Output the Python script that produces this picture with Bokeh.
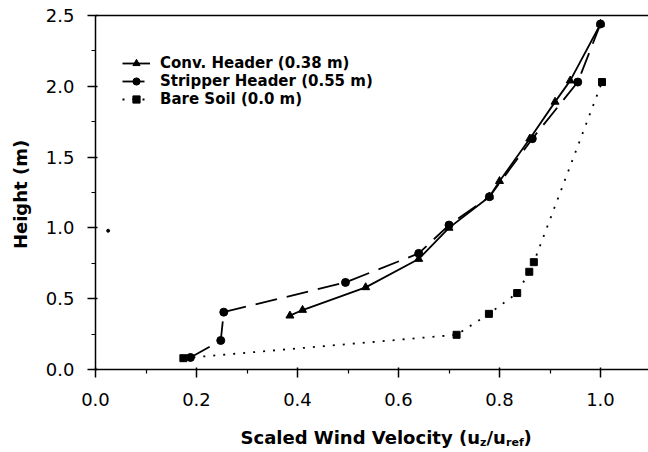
from bokeh.plotting import figure
from bokeh.models import (Range1d, FixedTicker, Label, Legend, LegendItem, LinearAxis)
from bokeh.embed import file_html
from bokeh.resources import INLINE

# ---- data ----
conv_x = [0.385, 0.41, 0.535, 0.64, 0.70, 0.78, 0.80, 0.86, 0.91, 0.94, 1.0]
conv_y = [0.38, 0.42, 0.58, 0.78, 1.00, 1.22, 1.33, 1.63, 1.89, 2.04, 2.44]

strip_x = [0.188, 0.248, 0.254, 0.495, 0.64, 0.70, 0.78, 0.865, 0.955, 1.0]
strip_y = [0.085, 0.205, 0.405, 0.615, 0.82, 1.02, 1.22, 1.63, 2.03, 2.44]

soil_x = [0.174, 0.715, 0.779, 0.835, 0.859, 0.868, 1.003]
soil_y = [0.08, 0.245, 0.393, 0.54, 0.69, 0.758, 2.03]

stray_x = [0.025]
stray_y = [0.98]

x_major = [0.0, 0.2, 0.4, 0.6, 0.8, 1.0]
x_minor = [0.1, 0.3, 0.5, 0.7, 0.9]
y_major = [0.0, 0.5, 1.0, 1.5, 2.0, 2.5]
y_minor = [0.25, 0.75, 1.25, 1.75, 2.25]

labels = ["Conv. Header (0.38 m)", "Stripper Header (0.55 m)", "Bare Soil (0.0 m)"]
x_title = ["Scaled Wind Velocity (u", "z", "/u", "ref", ")"]
y_title = "Height (m)"

FONT = "DejaVu Sans"
W, H = 648, 452
X0PX, XSCALE = 95.0, 505.0      # page px of x=0, px per unit
Y0PX, YSCALE = 369.0, 141.6     # page px of y=0, px per unit


def px2x(px):
    return (px - X0PX) / XSCALE


def py2y(py):
    return (Y0PX - py) / YSCALE


p = figure(width=W, height=H, output_backend="svg", toolbar_location=None,
           x_range=Range1d(px2x(0), px2x(W)), y_range=Range1d(py2y(H), py2y(0)),
           min_border=0, x_axis_location=None, y_axis_location=None)
p.outline_line_color = None
p.grid.visible = False
p.background_fill_color = "white"
p.border_fill_color = "white"

xax = LinearAxis(fixed_location=0, bounds=(0, px2x(W)))
yax = LinearAxis(fixed_location=0, bounds=(0, 2.5))
p.add_layout(xax, "below")
p.add_layout(yax, "left")

for ax, maj, mn in ((xax, x_major, x_minor), (yax, y_major, y_minor)):
    ax.ticker = FixedTicker(ticks=maj, minor_ticks=mn)
    ax.major_label_overrides = {v: f"{v:.1f}" for v in maj}
    ax.major_label_text_font = FONT
    ax.major_label_text_font_size = "18px"
    ax.major_label_text_color = "black"
    ax.axis_line_color = "black"
    ax.axis_line_width = 1.5
    ax.major_tick_line_color = "black"
    ax.minor_tick_line_color = "black"
    ax.major_tick_line_width = 1.5
    ax.minor_tick_line_width = 1.2
    ax.major_tick_in = 2
    ax.major_tick_out = 8
    ax.minor_tick_in = 0
    ax.minor_tick_out = 4
xax.major_label_standoff = 15
yax.major_label_standoff = 13

# top border line of the frame
top = LinearAxis(fixed_location=2.5, bounds=(0, px2x(W)),
                 ticker=FixedTicker(ticks=[]), axis_line_color="black",
                 axis_line_width=1.5, major_tick_line_color=None,
                 minor_tick_line_color=None, major_label_text_font_size="0px")
p.add_layout(top, "above")

# series
r_conv_l = p.line(conv_x, conv_y, line_color="black", line_width=1.8)
r_conv_m = p.scatter(conv_x, conv_y, marker="triangle", size=8, color="black")
r_str_l = p.line(strip_x, strip_y, line_color="black", line_width=1.8, line_dash="22 10")
r_str_m = p.scatter(strip_x, strip_y, marker="circle", size=8, color="black")
r_soil_l = p.line(soil_x, soil_y, line_color="black", line_width=1.8, line_dash="2 8")
r_soil_m = p.scatter(soil_x, soil_y, marker="square", size=7, color="black")
p.scatter(stray_x, stray_y, marker="circle", size=3, color="black")

legend = Legend(items=[LegendItem(label=labels[0], renderers=[r_conv_l, r_conv_m]),
                       LegendItem(label=labels[1], renderers=[r_str_l, r_str_m]),
                       LegendItem(label=labels[2], renderers=[r_soil_l, r_soil_m])],
                location=(122, 344), orientation="vertical",
                border_line_color=None, background_fill_alpha=0,
                label_text_font=FONT, label_text_font_style="bold",
                label_text_color="black",
                label_text_font_size="15px", label_height=18, glyph_height=18,
                glyph_width=28, label_standoff=10, spacing=0, padding=0, margin=0)
p.add_layout(legend)

# x axis title with subscripts
segs = [(x_title[0], 18, 437, 240), (x_title[1], 11, 442, 479.5),
        (x_title[2], 18, 437, 486), (x_title[3], 11, 442, 505.5),
        (x_title[4], 18, 437, 523)]
for txt, fs, py, px in segs:
    p.add_layout(Label(x=px2x(px), y=py2y(py), text=txt, text_font=FONT,
                       text_font_style="bold", text_font_size=f"{fs}px",
                       text_color="black", text_baseline="alphabetic",
                       text_align="left"))

# y axis title (rotated)
p.add_layout(Label(x=px2x(20), y=py2y(194), text=y_title, text_font=FONT,
                   text_font_style="bold", text_font_size="18px",
                   text_color="black", angle=90, angle_units="deg",
                   text_align="center", text_baseline="alphabetic"))

open("out.html", "w").write(file_html(p, INLINE))
